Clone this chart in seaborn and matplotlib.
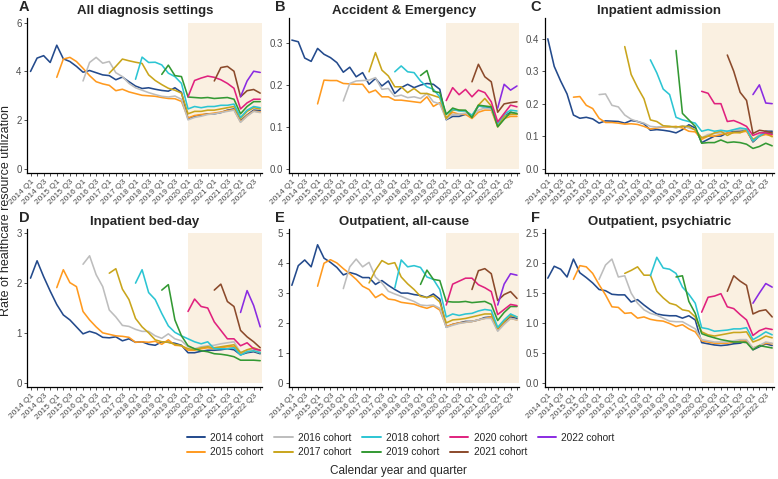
import pandas as pd
import matplotlib
matplotlib.use("Agg")
import matplotlib.pyplot as plt
import seaborn as sns

# quarters 2014 Q1 .. 2022 Q4 are positions 0..35
tick_labels = ["2014 Q1", "2014 Q3", "2015 Q1", "2015 Q3", "2016 Q1", "2016 Q3",
               "2017 Q1", "2017 Q3", "2018 Q1", "2018 Q3", "2019 Q1", "2019 Q3",
               "2020 Q1", "2020 Q3", "2021 Q1", "2021 Q3", "2022 Q1", "2022 Q3"]
cohorts = ["2014 cohort", "2015 cohort", "2016 cohort", "2017 cohort", "2018 cohort",
           "2019 cohort", "2020 cohort", "2021 cohort", "2022 cohort"]
cohort_colors = ["#234A8C", "#FF9A1F", "#BDBDBD", "#C9A51C", "#2CC5D3",
                 "#339933", "#E0217E", "#8B4A2B", "#8A2BE2"]

# each cohort series runs from its first quarter to 2022 Q4
all_dx = {
    "2014 cohort": [3.99, 4.54, 4.64, 4.36, 5.07, 4.51, 4.40, 4.20, 3.96, 4.03, 3.94, 3.85, 3.82, 3.65, 3.76, 3.57,
                    3.39, 3.29, 3.32, 3.26, 3.21, 3.18, 3.32, 3.13, 2.05, 2.15, 2.20, 2.25, 2.25, 2.30, 2.40, 2.45,
                    1.95, 2.20, 2.40, 2.38],
    "2015 cohort": [3.75, 4.50, 4.57, 4.40, 4.12, 3.82, 3.57, 3.48, 3.42, 3.20, 3.26, 3.15, 3.08, 3.01, 2.99, 2.97,
                    2.92, 2.88, 2.87, 2.76, 2.08, 2.18, 2.22, 2.24, 2.28, 2.32, 2.38, 2.42, 1.92, 2.18, 2.36, 2.33],
    "2016 cohort": [3.60, 4.36, 4.57, 4.33, 4.40, 3.94, 3.78, 3.50, 3.32, 3.22, 3.12, 3.04, 2.97, 2.94, 2.98, 2.85,
                    2.00, 2.10, 2.15, 2.22, 2.25, 2.30, 2.35, 2.40, 1.90, 2.15, 2.35, 2.30],
    "2017 cohort": [3.92, 4.20, 4.50, 4.43, 4.37, 4.32, 3.85, 3.62, 3.45, 3.30, 3.22, 3.10,
                    2.25, 2.35, 2.35, 2.40, 2.40, 2.45, 2.50, 2.55, 2.05, 2.35, 2.50, 2.45],
    "2018 cohort": [3.67, 4.58, 4.36, 4.37, 4.26, 3.92, 3.78, 3.50,
                    2.45, 2.55, 2.50, 2.55, 2.55, 2.60, 2.60, 2.65, 2.10, 2.40, 2.55, 2.50],
    "2019 cohort": [3.87, 4.25, 3.82, 3.78, 2.94, 2.92, 2.90, 2.92, 2.88, 2.90, 2.92, 2.85, 2.25, 2.55, 2.75, 2.75],
    "2020 cohort": [2.95, 3.62, 3.72, 3.80, 3.75, 3.65, 3.50, 3.30, 2.45, 2.70, 2.85, 2.85],
    "2021 cohort": [3.60, 4.15, 4.20, 4.00, 2.95, 3.20, 3.25, 3.10],
    "2022 cohort": [2.95, 3.60, 4.00, 3.95],
}

a_and_e = {
    "2014 cohort": [0.308, 0.304, 0.265, 0.257, 0.288, 0.274, 0.266, 0.254, 0.231, 0.243, 0.220, 0.230,
                    0.202, 0.216, 0.198, 0.210, 0.180, 0.194, 0.202, 0.194, 0.200, 0.204, 0.202, 0.190,
                    0.117, 0.125, 0.125, 0.130, 0.125, 0.150, 0.148, 0.145, 0.105, 0.125, 0.135, 0.130],
    "2015 cohort": [0.155, 0.212, 0.211, 0.211, 0.204, 0.203, 0.202, 0.202, 0.182, 0.188, 0.172, 0.172,
                    0.164, 0.164, 0.162, 0.160, 0.158, 0.172, 0.149, 0.158,
                    0.120, 0.135, 0.130, 0.130, 0.120, 0.135, 0.140, 0.140, 0.100, 0.120, 0.125, 0.125],
    "2016 cohort": [0.162, 0.204, 0.210, 0.211, 0.212, 0.218, 0.190, 0.192, 0.173, 0.176, 0.170, 0.172,
                    0.168, 0.180, 0.160, 0.155,
                    0.118, 0.130, 0.130, 0.133, 0.125, 0.140, 0.145, 0.142, 0.105, 0.125, 0.130, 0.132],
    "2017 cohort": [0.232, 0.278, 0.236, 0.222, 0.196, 0.196, 0.182, 0.192, 0.180, 0.180, 0.175, 0.170,
                    0.120, 0.140, 0.140, 0.138, 0.125, 0.152, 0.168, 0.150, 0.102, 0.125, 0.130, 0.130],
    "2018 cohort": [0.232, 0.246, 0.232, 0.230, 0.210, 0.196, 0.190, 0.172,
                    0.130, 0.142, 0.138, 0.138, 0.128, 0.150, 0.148, 0.148, 0.108, 0.130, 0.140, 0.138],
    "2019 cohort": [0.223, 0.235, 0.185, 0.182,
                    0.130, 0.145, 0.140, 0.140, 0.122, 0.152, 0.150, 0.148, 0.100, 0.118, 0.135, 0.132],
    "2020 cohort": [0.163, 0.194, 0.177, 0.190, 0.172, 0.188, 0.182, 0.160, 0.112, 0.132, 0.152, 0.148],
    "2021 cohort": [0.208, 0.250, 0.220, 0.208, 0.135, 0.155, 0.158, 0.160],
    "2022 cohort": [0.145, 0.202, 0.188, 0.198],
}

inpatient_adm = {
    "2014 cohort": [0.400, 0.315, 0.270, 0.230, 0.165, 0.155, 0.158, 0.153, 0.140, 0.147, 0.146, 0.145,
                    0.140, 0.148, 0.145, 0.138, 0.118, 0.120, 0.118, 0.115, 0.110, 0.120, 0.135, 0.125,
                    0.080, 0.090, 0.100, 0.100, 0.110, 0.115, 0.115, 0.118, 0.082, 0.100, 0.115, 0.115],
    "2015 cohort": [0.220, 0.222, 0.195, 0.185, 0.155, 0.142, 0.142, 0.140, 0.137, 0.138, 0.136, 0.130,
                    0.122, 0.125, 0.128, 0.128, 0.130, 0.125, 0.115, 0.113,
                    0.090, 0.100, 0.100, 0.105, 0.110, 0.110, 0.112, 0.115, 0.085, 0.100, 0.105, 0.100],
    "2016 cohort": [0.228, 0.230, 0.195, 0.190, 0.165, 0.152, 0.145, 0.140, 0.130, 0.128, 0.130, 0.130,
                    0.125, 0.132, 0.125, 0.120,
                    0.095, 0.105, 0.108, 0.110, 0.115, 0.118, 0.120, 0.120, 0.088, 0.105, 0.112, 0.110],
    "2017 cohort": [0.376, 0.290, 0.250, 0.215, 0.150, 0.145, 0.132, 0.130, 0.128, 0.130, 0.130, 0.118,
                    0.095, 0.100, 0.110, 0.115, 0.102, 0.112, 0.110, 0.120, 0.090, 0.100, 0.110, 0.098],
    "2018 cohort": [0.335, 0.295, 0.245, 0.228, 0.158, 0.150, 0.145, 0.140,
                    0.115, 0.120, 0.115, 0.118, 0.115, 0.120, 0.125, 0.122, 0.085, 0.100, 0.112, 0.108],
    "2019 cohort": [0.364, 0.170, 0.150, 0.130,
                    0.078, 0.080, 0.080, 0.088, 0.080, 0.082, 0.080, 0.075, 0.062, 0.068, 0.078, 0.070],
    "2020 cohort": [0.238, 0.232, 0.200, 0.200, 0.145, 0.148, 0.140, 0.130, 0.102, 0.110, 0.110, 0.105],
    "2021 cohort": [0.350, 0.300, 0.235, 0.210, 0.108, 0.118, 0.115, 0.110],
    "2022 cohort": [0.228, 0.258, 0.202, 0.200],
}

bed_day = {
    "2014 cohort": [2.10, 2.45, 2.13, 1.84, 1.57, 1.36, 1.26, 1.12, 0.98, 1.03, 0.99, 0.91, 0.90, 0.92, 0.84, 0.88,
                    0.81, 0.82, 0.77, 0.75, 0.82, 0.81, 0.79, 0.75, 0.60, 0.60, 0.63, 0.65, 0.65, 0.66, 0.68, 0.66,
                    0.56, 0.60, 0.62, 0.58],
    "2015 cohort": [1.91, 2.27, 2.01, 1.93, 1.43, 1.26, 1.12, 1.00, 0.97, 0.94, 0.93, 0.91, 0.81, 0.82, 0.81, 0.83,
                    0.77, 0.86, 0.75, 0.74, 0.65, 0.65, 0.68, 0.70, 0.68, 0.70, 0.72, 0.72, 0.58, 0.62, 0.64, 0.60],
    "2016 cohort": [2.38, 2.55, 2.17, 1.93, 1.46, 1.32, 1.15, 1.13, 1.07, 1.03, 1.03, 0.94, 0.89, 0.98, 0.88, 0.84,
                    0.72, 0.68, 0.72, 0.74, 0.75, 0.78, 0.80, 0.82, 0.60, 0.65, 0.68, 0.62],
    "2017 cohort": [2.20, 2.29, 1.88, 1.67, 1.29, 1.12, 1.00, 0.86, 0.82, 0.81, 0.77, 0.74,
                    0.68, 0.66, 0.70, 0.72, 0.70, 0.72, 0.74, 0.76, 0.60, 0.66, 0.70, 0.65],
    "2018 cohort": [2.00, 2.27, 1.81, 1.67, 1.39, 1.14, 1.01, 0.94,
                    0.88, 0.82, 0.78, 0.82, 0.68, 0.68, 0.68, 0.70, 0.55, 0.62, 0.64, 0.60],
    "2019 cohort": [1.86, 1.97, 1.26, 0.94, 0.74, 0.68, 0.64, 0.62, 0.58, 0.57, 0.55, 0.52, 0.45, 0.45, 0.45, 0.44],
    "2020 cohort": [1.43, 1.68, 1.53, 1.50, 1.22, 1.05, 0.88, 0.88, 0.74, 0.80, 0.68, 0.65],
    "2021 cohort": [1.86, 1.98, 1.63, 1.53, 1.05, 0.92, 0.82, 0.70],
    "2022 cohort": [1.41, 1.85, 1.55, 1.12],
}

outpatient_all = {
    "2014 cohort": [3.26, 3.92, 4.11, 3.88, 4.62, 4.17, 4.03, 3.86, 3.61, 3.69, 3.63, 3.52, 3.52, 3.29, 3.42, 3.26,
                    3.12, 3.00, 3.00, 2.95, 2.92, 2.85, 2.97, 2.80, 1.86, 1.95, 2.00, 2.05, 2.05, 2.10, 2.18, 2.20,
                    1.78, 2.00, 2.20, 2.15],
    "2015 cohort": [3.23, 4.00, 4.12, 4.01, 3.82, 3.65, 3.46, 3.23, 3.12, 2.85, 2.97, 2.80, 2.77, 2.69, 2.66, 2.63,
                    2.55, 2.49, 2.57, 2.43, 1.88, 1.95, 2.00, 2.02, 2.05, 2.10, 2.15, 2.20, 1.75, 1.98, 2.15, 2.10],
    "2016 cohort": [3.15, 3.88, 4.14, 3.88, 4.03, 3.54, 3.34, 3.06, 2.97, 2.89, 2.80, 2.72, 2.60, 2.58, 2.60, 2.49,
                    1.85, 1.92, 1.98, 2.02, 2.05, 2.10, 2.15, 2.15, 1.72, 1.95, 2.15, 2.10],
    "2017 cohort": [3.34, 3.77, 4.09, 3.97, 4.02, 3.54, 3.31, 3.12, 2.89, 2.85, 2.90, 2.70,
                    2.00, 2.10, 2.12, 2.15, 2.20, 2.25, 2.30, 2.30, 1.82, 2.05, 2.25, 2.20],
    "2018 cohort": [3.17, 4.11, 3.88, 3.92, 3.86, 3.54, 3.46, 3.12,
                    2.20, 2.30, 2.25, 2.30, 2.32, 2.40, 2.45, 2.42, 1.85, 2.10, 2.30, 2.20],
    "2019 cohort": [3.29, 3.77, 3.46, 3.42, 2.72, 2.70, 2.70, 2.72, 2.68, 2.70, 2.72, 2.62, 2.08, 2.35, 2.55, 2.55],
    "2020 cohort": [2.60, 3.30, 3.40, 3.50, 3.50, 3.28, 3.18, 3.05, 2.28, 2.45, 2.62, 2.58],
    "2021 cohort": [3.12, 3.75, 3.82, 3.65, 2.75, 2.95, 3.05, 2.82],
    "2022 cohort": [2.60, 3.30, 3.65, 3.60],
}

outpatient_psych = {
    "2014 cohort": [1.75, 1.95, 1.90, 1.77, 2.07, 1.84, 1.76, 1.67, 1.56, 1.54, 1.48, 1.47, 1.47, 1.35, 1.39, 1.30,
                    1.22, 1.15, 1.13, 1.12, 1.12, 1.08, 1.12, 1.05, 0.67, 0.65, 0.63, 0.62, 0.63, 0.65, 0.66, 0.70,
                    0.55, 0.60, 0.65, 0.62],
    "2015 cohort": [1.73, 1.96, 1.94, 1.83, 1.64, 1.47, 1.27, 1.26, 1.16, 1.17, 1.08, 1.10, 1.06, 1.04, 1.03, 0.99,
                    0.94, 0.97, 0.90, 0.85, 0.70, 0.68, 0.66, 0.66, 0.66, 0.68, 0.70, 0.70, 0.58, 0.62, 0.66, 0.65],
    "2016 cohort": [1.73, 1.97, 2.07, 1.77, 1.79, 1.50, 1.33, 1.22, 1.16, 1.13, 1.08, 1.03, 1.02, 1.02, 0.96, 0.90,
                    0.72, 0.70, 0.68, 0.68, 0.68, 0.70, 0.72, 0.72, 0.58, 0.62, 0.68, 0.66],
    "2017 cohort": [1.83, 1.88, 1.94, 1.80, 1.80, 1.53, 1.42, 1.33, 1.30, 1.22, 1.20, 1.10,
                    0.85, 0.80, 0.78, 0.80, 0.82, 0.84, 0.84, 0.85, 0.68, 0.72, 0.78, 0.75],
    "2018 cohort": [1.79, 2.10, 1.92, 1.90, 1.83, 1.60, 1.48, 1.33,
                    0.92, 0.90, 0.86, 0.87, 0.88, 0.90, 0.90, 0.92, 0.72, 0.78, 0.85, 0.80],
    "2019 cohort": [1.77, 1.79, 1.36, 1.16, 0.82, 0.78, 0.75, 0.72, 0.70, 0.68, 0.68, 0.67, 0.55, 0.62, 0.60, 0.58],
    "2020 cohort": [1.18, 1.43, 1.45, 1.49, 1.27, 1.24, 1.14, 1.05, 0.79, 0.87, 0.91, 0.89],
    "2021 cohort": [1.53, 1.79, 1.70, 1.63, 1.15, 1.20, 1.22, 1.10],
    "2022 cohort": [1.33, 1.50, 1.66, 1.60],
}

panels = [
    ("A", "All diagnosis settings", all_dx, [0, 2, 4, 6], 6.0, "{:.0f}"),
    ("B", "Accident & Emergency", a_and_e, [0.0, 0.1, 0.2, 0.3], 0.35, "{:.1f}"),
    ("C", "Inpatient admission", inpatient_adm, [0.0, 0.1, 0.2, 0.3, 0.4], 0.45, "{:.1f}"),
    ("D", "Inpatient bed-day", bed_day, [0, 1, 2, 3], 3.0, "{:.0f}"),
    ("E", "Outpatient, all-cause", outpatient_all, [0, 1, 2, 3, 4, 5], 5.0, "{:.0f}"),
    ("F", "Outpatient, psychiatric", outpatient_psych, [0.0, 0.5, 1.0, 1.5, 2.0, 2.5], 2.5, "{:.1f}"),
]

sns.set_style("ticks")
plt.rcParams['font.family'] = ['Liberation Sans', 'DejaVu Sans']
palette = dict(zip(cohorts, cohort_colors))

fig = plt.figure(figsize=(7.78, 4.79), dpi=100)
lefts = [0.035, 0.371, 0.700]
widths = [0.302, 0.296, 0.295]
bottoms = [0.639, 0.192]
heights = [0.323, 0.330]
letter_x = [0.024, 0.353, 0.682]

for i, (letter, title, data, yticks, top, fmt) in enumerate(panels):
    row, col = divmod(i, 3)
    ax = fig.add_axes([lefts[col], bottoms[row], widths[col], heights[row]])

    rows = []
    for c in cohorts:
        vals = data[c]
        start = 36 - len(vals)
        for k, v in enumerate(vals):
            rows.append({"quarter": start + k, "rate": v, "cohort": c})
    df = pd.DataFrame(rows)

    # pandemic period shading
    ax.fill_between([24, 35.3], 0, top, color="#FAF0E1", zorder=0, linewidth=0)
    sns.lineplot(data=df, x="quarter", y="rate", hue="cohort", hue_order=cohorts,
                 palette=palette, linewidth=1.15, legend=False, errorbar=None, ax=ax)

    ax.set_xlim(-0.5, 35.3)
    ax.set_ylim(-top * 0.03, top * 1.03)
    ax.set_xticks(range(0, 36, 2))
    ax.set_xticks(range(1, 36, 2), minor=True)
    ax.set_xticklabels(tick_labels, rotation=45, ha="right", rotation_mode="anchor",
                       fontsize=6.0, color="#4D4D4D")
    ax.set_yticks(yticks)
    ax.set_yticklabels([fmt.format(t) for t in yticks], fontsize=7, color="#4D4D4D")
    ax.tick_params(axis="both", which="both", length=2.5, width=0.6, color="#333333", pad=1.5)
    ax.set_xlabel("")
    ax.set_ylabel("")
    for s in ["top", "right"]:
        ax.spines[s].set_visible(False)
    for s in ["left", "bottom"]:
        ax.spines[s].set_linewidth(0.9)
        ax.spines[s].set_color("black")
    ax.set_title(title, fontsize=9.5, fontweight="bold", pad=3)
    fig.text(letter_x[col], bottoms[row] + heights[row] + 0.008, letter,
             fontsize=10.5, fontweight="bold", ha="left", va="bottom")

handles = [plt.Line2D([0], [0], color=col, lw=1.4) for col in cohort_colors]
fig.legend(handles, cohorts, ncol=5, loc="center", bbox_to_anchor=(0.515, 0.071),
           frameon=False, fontsize=7.3, handlelength=1.8, columnspacing=1.1,
           handletextpad=0.5, labelspacing=0.45)
fig.text(0.512, 0.004, "Calendar year and quarter", ha="center", va="bottom", fontsize=8.5)
fig.text(0.0, 0.56, "Rate of healthcare resource utilization", rotation=90,
         ha="left", va="center", fontsize=9)

fig.savefig("out.png", dpi=100)
